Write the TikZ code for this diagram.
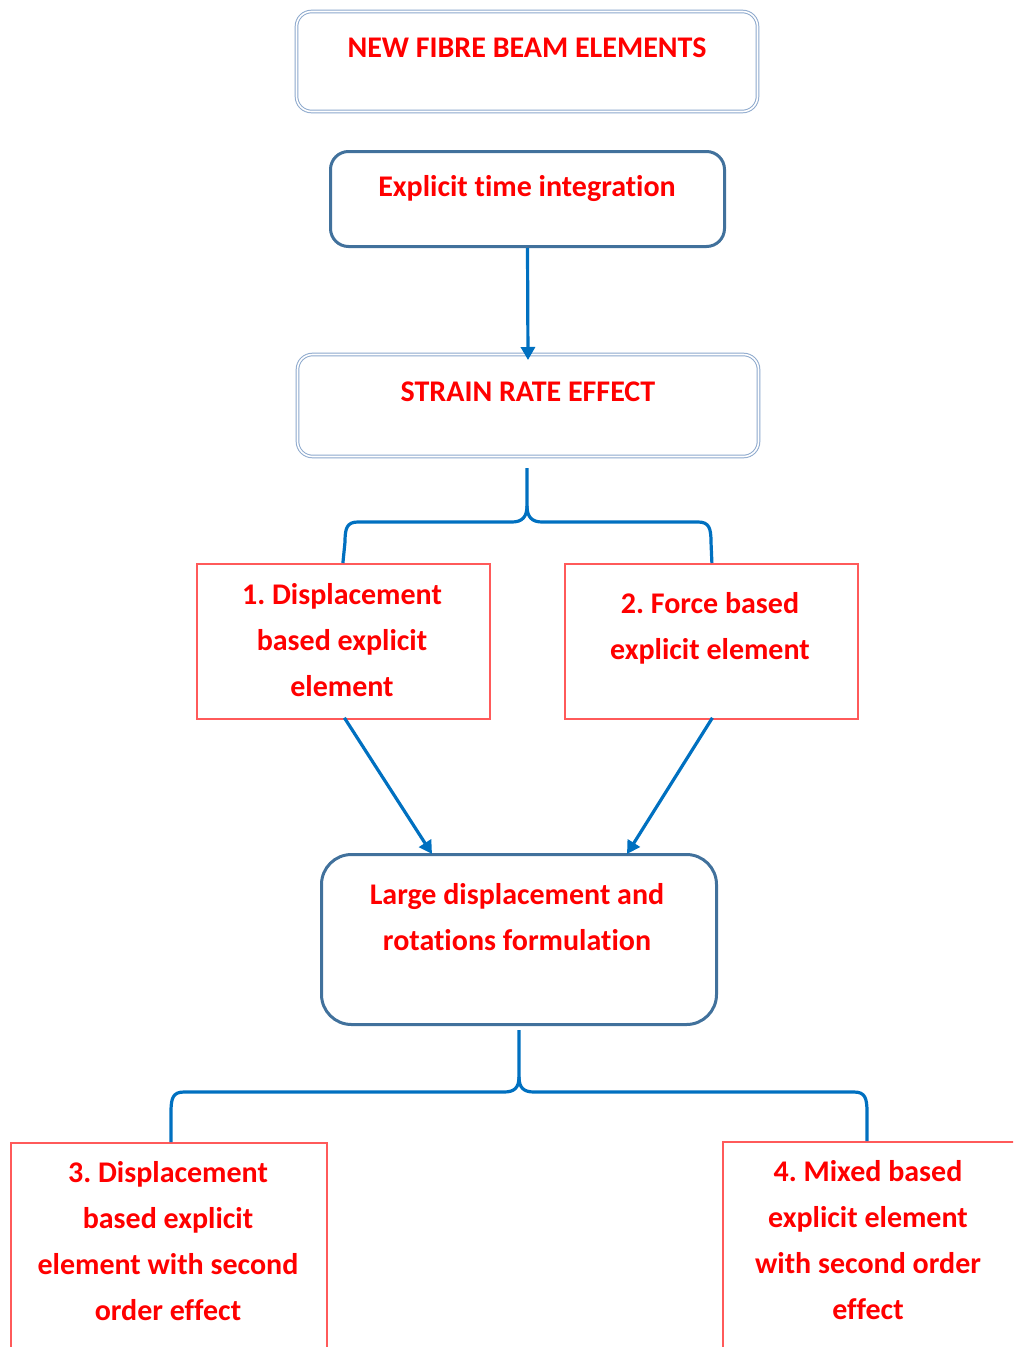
\documentclass[tikz,border=0pt]{standalone}
\usepackage{fontspec}
\setmainfont{Carlito}[Ligatures={NoCommon}]
\usetikzlibrary{arrows.meta,positioning}
\definecolor{steel}{RGB}{65,113,156}
\definecolor{lightsteel}{RGB}{140,168,204}
\definecolor{conn}{RGB}{0,112,192}
\definecolor{redtxt}{RGB}{255,0,0}
\definecolor{redbox}{RGB}{255,90,90}
\begin{document}
\frenchspacing
\begin{tikzpicture}[x=1pt,y=-1pt,
  txt/.style={font=\fontsize{30}{46}\selectfont\bfseries, text=redtxt, align=center, anchor=base, inner sep=0pt},
  dblbox/.style={draw=lightsteel, double=white, double distance=1.6pt, line width=1pt, rounded corners=15pt, anchor=north west, inner sep=0pt},
  solbox/.style={draw=steel, line width=3pt, rounded corners=18pt, anchor=north west, inner sep=0pt},
  redrect/.style={draw=redbox, line width=1.8pt, anchor=north west, inner sep=0pt},
  conline/.style={draw=conn, line width=3.2pt},
  arr/.style={conline, -{Triangle[width=14pt,length=13pt]}}
]
\useasboundingbox (0,0) rectangle (1013,1347);
\clip (0,0) rectangle (1013,1347);
% boxes
\node[dblbox, minimum width=461pt, minimum height=100pt] (top) at (296,11) {};
\node[solbox, minimum width=394pt, minimum height=95pt] (eti) at (329,150) {};
\node[dblbox, minimum width=461pt, minimum height=102pt] (sre) at (297,354) {};
\node[redrect, minimum width=293pt, minimum height=155pt] (b1) at (196,563) {};
\node[redrect, minimum width=293pt, minimum height=155pt] (b2) at (564,563) {};
\node[solbox, rounded corners=30pt, minimum width=395pt, minimum height=170pt] (lg) at (320,853) {};
\node[redrect, minimum width=316pt, minimum height=230pt] (b3) at (10,1142) {};
\node[redrect, minimum width=320pt, minimum height=230pt] (b4) at (722,1141) {};
% texts (base anchor = baseline of the last line)
\node[txt] (ttop) at (527,57) {NEW FIBRE BEAM ELEMENTS};
\node[txt] (teti) at (527,196) {Explicit time integration};
\node[txt] (tsre) at (528,401) {STRAIN RATE EFFECT};
\node[txt] (tb1) at (342,696) {1. Displacement\\based explicit\\element};
\node[txt] (tb2) at (710,659) {2. Force based\\explicit element};
\node[txt] (tlg) at (517,950) {Large displacement and\\rotations formulation};
\node[txt] (tb3) at (168,1320) {3. Displacement\\based explicit\\element with second\\order effect};
\node[txt] (tb4) at (868,1319) {4. Mixed based\\explicit element\\with second order\\effect};
% connectors
\draw[arr] (eti.south) -- ([yshift=-6pt]sre.north);
\coordinate (br1) at (527,468);
\draw[conline, line join=round] (br1) -- (527,506)
  .. controls (527,517) and (522,522) .. (512,522) -- (358,522)
  .. controls (347,522) and (345,528) .. (345,542) -- ([xshift=-0.5pt]b1.north);
\draw[conline, line join=round] (527,506)
  .. controls (527,517) and (532,522) .. (542,522) -- (698,522)
  .. controls (709,522) and (711,528) .. (711,542) -- ([xshift=0.5pt]b2.north);
\draw[arr] ([xshift=1pt,yshift=2pt]b1.south) -- ([xshift=-87pt,yshift=-1pt]lg.north);
\draw[arr] ([xshift=1pt,yshift=2pt]b2.south) -- ([xshift=108pt,yshift=-1pt]lg.north);
\coordinate (br2) at (519,1030);
\draw[conline, line join=round] (br2) -- (519,1077)
  .. controls (519,1088) and (514,1092) .. (504,1092) -- (184,1092)
  .. controls (173,1092) and (171,1098) .. (171,1112) -- (b3.north -| 171,0);
\draw[conline, line join=round] (519,1077)
  .. controls (519,1088) and (524,1092) .. (534,1092) -- (854,1092)
  .. controls (865,1092) and (867,1098) .. (867,1112) -- (b4.north -| 867,0);
\end{tikzpicture}
\end{document}
